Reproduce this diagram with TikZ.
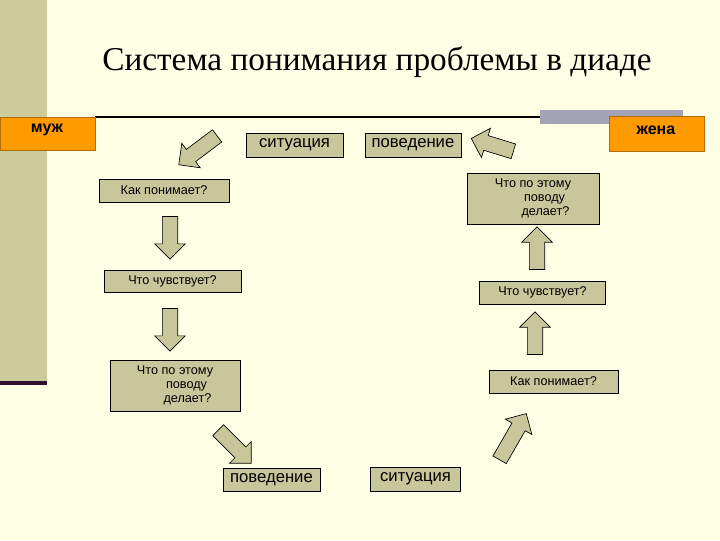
\documentclass[tikz,border=0pt]{standalone}
\usepackage{fontspec}
\setmainfont{Liberation Sans}
\newfontfamily\titlefont{Liberation Serif}
\usetikzlibrary{shapes.arrows}
\definecolor{bg}{HTML}{FFFFE5}
\definecolor{olive}{HTML}{CCCC99}
\definecolor{boxc}{HTML}{C8C79C}
\definecolor{orng}{HTML}{FF9A00}
\definecolor{dpurp}{HTML}{2E0F2E}
\definecolor{greybar}{HTML}{A3A3B5}
\tikzset{
  box/.style={draw=black, line width=0.6pt, fill=boxc, inner sep=0pt, font=\fontsize{9.5}{10.5}\selectfont},
  bigbox/.style={box, font=\fontsize{12.5}{14}\selectfont},
  barr/.style={single arrow, draw=black, line width=0.5pt, fill=boxc, inner sep=5.5pt, single arrow head extend=5.75pt, minimum width=22.5pt},
  tag/.style={draw=orng!70!black, fill=orng, line width=0.6pt},
}
\begin{document}
\begin{tikzpicture}[x=0.75pt,y=-0.75pt]
\useasboundingbox (0,0) rectangle (720,540);
\fill[bg] (0,0) rectangle (720,540);
\fill[olive] (0,0) rectangle (47,381);
\fill[dpurp] (0,381) rectangle (47,385);
\fill[greybar] (540,110) rectangle (683,124);
\draw[line width=1.5pt] (95,117) -- (540,117);
\node[font=\titlefont\fontsize{25}{28}\selectfont] (title) at (377,62) {Система понимания проблемы в диаде};
\draw[tag] (0,117) rectangle (95,150);
\node[font=\bfseries\fontsize{12}{14}\selectfont] (muzh) at (47,130) {муж};
\draw[tag] (609,116) rectangle (704,151);
\node[font=\bfseries\fontsize{12}{14}\selectfont] (zhena) at (656,130) {жена};

\node[bigbox, minimum width=72.75pt, minimum height=18pt] (sit1) at (294.5,145) {ситуация};
\node[bigbox, minimum width=72pt, minimum height=18pt] (pov1) at (413,145) {поведение};
\node[box, minimum width=97.5pt, minimum height=17.25pt] (kp1) at (164,190.5) {Как понимает?};
\node[box, minimum width=102.75pt, minimum height=16.5pt] (ch1) at (172.5,281) {Что чувствует?};
\node[box, minimum width=97.5pt, minimum height=38.25pt, align=left] (dl1) at (175,385.5) {Что по этому\\\hspace{2.3em}поводу\\\hspace{2.1em}делает?};
\node[bigbox, minimum width=72.75pt, minimum height=17.25pt] (pov2) at (271.5,479.5) {поведение};
\node[bigbox, minimum width=68pt, minimum height=18pt] (sit2) at (415.5,479) {ситуация};
\node[box, minimum width=96.75pt, minimum height=17.25pt] (kp2) at (553.5,381.5) {Как понимает?};
\node[box, minimum width=95pt, minimum height=17.25pt] (ch2) at (542.5,292.5) {Что чувствует?};
\node[box, minimum width=99pt, minimum height=38.25pt, align=left] (dl2) at (533,198.5) {Что по этому\\\hspace{2.3em}поводу\\\hspace{2.1em}делает?};

\node[barr, minimum height=36pt, rotate=217] (a1) at (201,148) {};
\node[barr, minimum height=32pt, rotate=270] (a2) at (170,234) {};
\node[barr, minimum height=32pt, rotate=270] (a3) at (170,326) {};
\node[barr, minimum height=35pt, rotate=-45] (a4) at (232,444) {};
\node[barr, minimum height=40pt, rotate=60] (a5) at (511,440) {};
\node[barr, minimum height=32pt, rotate=90] (a6) at (535,337) {};
\node[barr, minimum height=32pt, rotate=90] (a7) at (537,252) {};
\node[barr, minimum height=33pt, rotate=163] (a8) at (496,146) {};
\end{tikzpicture}
\end{document}
